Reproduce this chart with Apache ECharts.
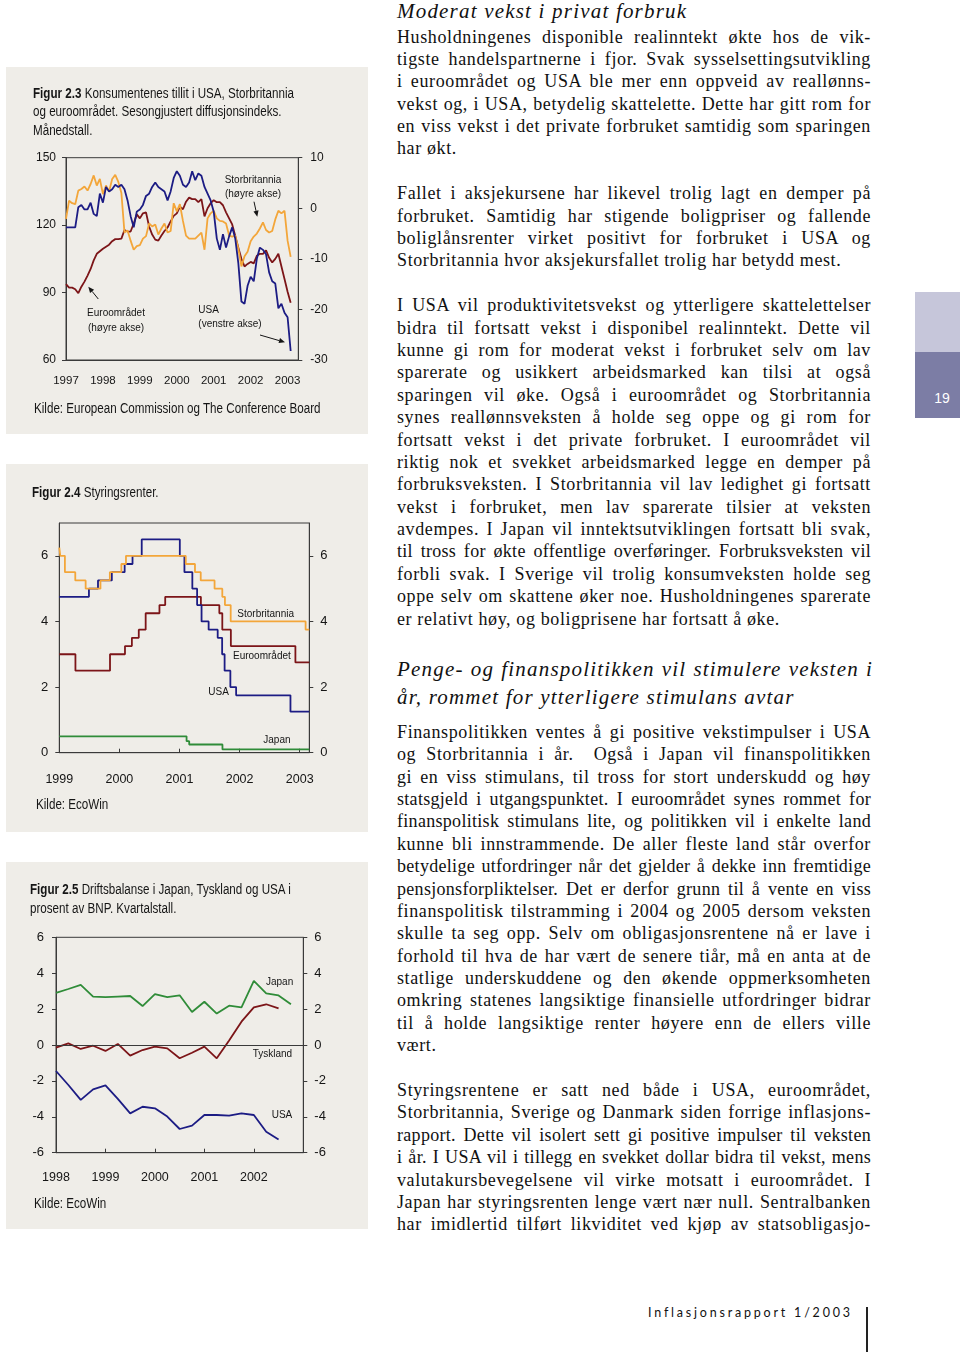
<!DOCTYPE html>
<html><head><meta charset="utf-8">
<script src="https://cdn.jsdelivr.net/npm/echarts@6/dist/echarts.min.js"></script>
<style>
html,body{margin:0;padding:0;background:#fff;}
body{width:960px;height:1352px;position:relative;overflow:hidden;}
.panel{position:absolute;left:6px;width:362px;background:#efede8;}
.ptxt{position:absolute;font-family:"Liberation Sans",Arial,sans-serif;font-size:14px;line-height:18.5px;color:#151515;white-space:nowrap;z-index:2;transform:scaleX(0.83);transform-origin:0 0;}
.ptxt b{font-weight:bold;}
.chart{position:absolute;left:0;top:0;width:362px;z-index:1;}
.col{position:absolute;left:397px;width:474px;font-family:"Liberation Serif","Times New Roman",serif;font-size:18px;line-height:22.4px;letter-spacing:0.62px;color:#111;}
.col div{white-space:nowrap;text-align:justify;text-align-last:justify;height:22.4px;}
.col div.l{text-align-last:left;}
.col div.t{letter-spacing:0.3px;}
.h{position:absolute;left:397px;width:476px;font-family:"Liberation Serif","Times New Roman",serif;font-style:italic;font-size:21px;line-height:28px;color:#111;letter-spacing:1.2px;}
.h div{white-space:nowrap;text-align:justify;text-align-last:justify;}
.h div.l{text-align-last:left;}
</style>
</head><body>

<div class="h" style="top:-3px;"><div class="l">Moderat vekst i privat forbruk</div></div>
<div class="col" style="top:25.5px;">
<div>Husholdningenes disponible realinntekt økte hos de vik-</div>
<div>tigste handelspartnerne i fjor. Svak sysselsettingsutvikling</div>
<div>i euroområdet og USA ble mer enn oppveid av reallønns-</div>
<div>vekst og, i USA, betydelig skattelette. Dette har gitt rom for</div>
<div>en viss vekst i det private forbruket samtidig som sparingen</div>
<div class="l">har økt.</div>
<div class="l"></div>
<div>Fallet i aksjekursene har likevel trolig lagt en demper på</div>
<div>forbruket. Samtidig har stigende boligpriser og fallende</div>
<div>boliglånsrenter virket positivt for forbruket i USA og</div>
<div class="l">Storbritannia hvor aksjekursfallet trolig har betydd mest.</div>
<div class="l"></div>
<div>I USA vil produktivitetsvekst og ytterligere skattelettelser</div>
<div>bidra til fortsatt vekst i disponibel realinntekt. Dette vil</div>
<div>kunne gi rom for moderat vekst i forbruket selv om lav</div>
<div>sparerate og usikkert arbeidsmarked kan tilsi at også</div>
<div>sparingen vil øke. Også i euroområdet og Storbritannia</div>
<div>synes reallønnsveksten å holde seg oppe og gi rom for</div>
<div>fortsatt vekst i det private forbruket. I euroområdet vil</div>
<div>riktig nok et svekket arbeidsmarked legge en demper på</div>
<div>forbruksveksten. I Storbritannia vil lav ledighet gi fortsatt</div>
<div>vekst i forbruket, men lav sparerate tilsier at veksten</div>
<div>avdempes. I Japan vil inntektsutviklingen fortsatt bli svak,</div>
<div class="t">til tross for økte offentlige overføringer. Forbruksveksten vil</div>
<div>forbli svak. I Sverige vil trolig konsumveksten holde seg</div>
<div>oppe selv om skattene øker noe. Husholdningenes sparerate</div>
<div class="l">er relativt høy, og boligprisene har fortsatt å øke.</div>
</div>

<div class="h" style="top:655px;">
<div>Penge- og finanspolitikken vil stimulere veksten i</div>
<div class="l">år, rommet for ytterligere stimulans avtar</div>
</div>
<div class="col" style="top:720.8px;">
<div>Finanspolitikken ventes å gi positive vekstimpulser i USA</div>
<div>og Storbritannia i år.&nbsp; Også i Japan vil finanspolitikken</div>
<div>gi en viss stimulans, til tross for stort underskudd og høy</div>
<div class="t">statsgjeld i utgangspunktet. I euroområdet synes rommet for</div>
<div class="t">finanspolitisk stimulans lite, og politikken vil i enkelte land</div>
<div>kunne bli innstrammende. De aller fleste land står overfor</div>
<div class="t">betydelige utfordringer når det gjelder å dekke inn fremtidige</div>
<div class="t">pensjonsforpliktelser. Det er derfor grunn til å vente en viss</div>
<div>finanspolitisk tilstramming i 2004 og 2005 dersom veksten</div>
<div>skulle ta seg opp. Selv om obligasjonsrentene nå er lave i</div>
<div>forhold til hva de har vært de senere tiår, må en anta at de</div>
<div>statlige underskuddene og den økende oppmerksomheten</div>
<div>omkring statenes langsiktige finansielle utfordringer bidrar</div>
<div>til å holde langsiktige renter høyere enn de ellers ville</div>
<div class="l">vært.</div>
<div class="l"></div>
<div>Styringsrentene er satt ned både i USA, euroområdet,</div>
<div>Storbritannia, Sverige og Danmark siden forrige inflasjons-</div>
<div class="t">rapport. Dette vil isolert sett gi positive impulser til veksten</div>
<div class="t">i år. I USA vil i tillegg en svekket dollar bidra til vekst, mens</div>
<div>valutakursbevegelsene vil virke motsatt i euroområdet. I</div>
<div>Japan har styringsrenten lenge vært nær null. Sentralbanken</div>
<div>har imidlertid tilført likviditet ved kjøp av statsobligasjo-</div>
</div>

<!-- side tab -->
<div style="position:absolute;left:915px;top:292px;width:45px;height:60px;background:#c6c6da;"></div>
<div style="position:absolute;left:915px;top:352px;width:45px;height:66px;background:#7c7da5;"></div>
<div style="position:absolute;left:915px;top:388px;width:54px;text-align:center;font-family:'Liberation Sans',Arial,sans-serif;font-size:14px;line-height:20px;color:#fff;">19</div>

<!-- footer -->
<div style="position:absolute;left:648px;top:1304px;font-family:Lato,'Open Sans',sans-serif;font-size:12.5px;line-height:18px;letter-spacing:2.8px;color:#111;white-space:nowrap;">Inflasjonsrapport 1/2003</div>
<div style="position:absolute;left:866px;top:1307px;width:1.5px;height:45px;background:#222;"></div>

<!-- panels -->
<div class="panel" style="top:67px;height:367px;">
  <div class="chart" id="c1" style="height:367px;"></div>
  <div class="ptxt" style="left:27px;top:16.75px;"><b>Figur 2.3</b> Konsumentenes tillit i USA, Storbritannia<br>og euroområdet. Sesongjustert diffusjonsindeks.<br>Månedstall.</div>
  <div class="ptxt" style="left:28px;top:331.75px;">Kilde: European Commission og The Conference Board</div>
</div>
<div class="panel" style="top:464px;height:368px;">
  <div class="chart" id="c2" style="height:368px;"></div>
  <div class="ptxt" style="left:26px;top:18.75px;"><b>Figur 2.4</b> Styringsrenter.</div>
  <div class="ptxt" style="left:30px;top:330.75px;">Kilde: EcoWin</div>
</div>
<div class="panel" style="top:862px;height:367px;">
  <div class="chart" id="c3" style="height:367px;"></div>
  <div class="ptxt" style="left:24px;top:18.25px;"><b>Figur 2.5</b> Driftsbalanse i Japan, Tyskland og USA i<br>prosent av BNP. Kvartalstall.</div>
  <div class="ptxt" style="left:28px;top:331.75px;">Kilde: EcoWin</div>
</div>

<script>
// ---------- Figur 2.3: monthly, from Jan 1997 ----------
const confStartYear = 1997;
const confYearTicks = [1997, 1998, 1999, 2000, 2001, 2002, 2003];
const usaConf = [119,119,119,119,128,129,127,127,130,125,124,134,
  130,137,135,136,138,137,138,136,131,124,119,126,
  127,129,133,134,137,139,137,136,135,131,135,141,
  144,142,138,137,139,144,140,143,142,137,134,131,
  126,114,109,116,110,115,119,114,103,86,85,93,
  97,95,105,110,109,107,99,95,94,83,85,81,
  79,64];
const euroConf = [-15,-15.7,-15.7,-16,-16.8,-15.5,-14.5,-13.3,-12,-10.3,-9,-8.5,
  -8,-7.6,-7.2,-6.5,-6.1,-6.1,-6,-4.3,-4.6,-4.6,-3,-1.2,
  -2,-1,-0.8,-3.6,-5.2,-6.2,-6.4,-5.4,-4.5,-3.8,-2.6,-1.5,
  -1,0.3,-0.2,1.3,2.1,1.8,1.8,1.2,1.8,-1.6,0,1,
  1.6,1.2,1.2,0.6,-0.8,-2,-3.2,-5.5,-7.8,-10,-11.5,-11,
  -10.6,-10.9,-9.4,-9,-9,-8.3,-9.8,-10.7,-10,-9,-11.5,-14,
  -16.5,-18.7];
const ukConf = [-2.1,1.5,1.0,0.8,3.5,3.8,4.3,3.5,4.8,6.5,4.5,5.8,
  2.8,4.5,3.3,5.8,6.6,5.2,3.0,-4.8,-4.4,-6.4,-8.2,-7.5,
  -7.3,-6.0,-5.5,-3.0,-3.6,-3.2,-5.2,-4.0,-3.0,-4.8,-4.5,1.0,
  -0.6,0.8,-2.5,-5.4,-6.0,-6.0,-6.0,-5.4,-4.8,-8.2,-2.0,-1.0,
  -0.5,-2.0,-2.5,-2.6,-3.0,-5.4,-5.6,-5.4,-8.0,-11.5,-9.5,-8.6,
  -6.5,-5.6,-5.0,-4.0,-2.8,-4.3,-4.8,-4.5,-2.2,-0.5,-1.0,-0.5,
  -6.4,-9.6];

// ---------- Figur 2.4: policy rates, [date of change, new level] ----------
const rateYearTicks = [1999, 2000, 2001, 2002, 2003];
const usaRate = [['1999-01-01',4.75],['1999-06-30',5.0],['1999-08-24',5.25],['1999-11-16',5.5],['2000-02-02',5.75],['2000-03-21',6.0],['2000-05-16',6.5],['2001-01-03',6.0],['2001-01-31',5.5],['2001-03-20',5.0],['2001-04-18',4.5],['2001-05-15',4.0],['2001-06-27',3.75],['2001-08-21',3.5],['2001-09-17',3.0],['2001-10-02',2.5],['2001-11-06',2.0],['2001-12-11',1.75],['2002-11-06',1.25],['2003-02-28',1.25]];
const ukRate = [['1999-01-01',6.25],['1999-01-07',6.0],['1999-02-04',5.5],['1999-04-08',5.25],['1999-06-10',5.0],['1999-09-08',5.25],['1999-11-04',5.5],['2000-01-13',5.75],['2000-02-10',6.0],['2001-02-08',5.75],['2001-04-05',5.5],['2001-05-10',5.25],['2001-08-02',5.0],['2001-09-18',4.75],['2001-10-04',4.5],['2001-11-08',4.0],['2003-02-06',3.75],['2003-02-28',3.75]];
const euroRate = [['1999-01-01',3.0],['1999-04-09',2.5],['1999-11-05',3.0],['2000-02-04',3.25],['2000-03-17',3.5],['2000-04-28',3.75],['2000-06-09',4.25],['2000-09-01',4.5],['2000-10-06',4.75],['2001-05-11',4.5],['2001-08-31',4.25],['2001-09-18',3.75],['2001-11-09',3.25],['2002-12-06',2.75],['2003-02-28',2.75]];
const japanRate = [['1999-01-01',0.5],['2001-02-13',0.35],['2001-03-01',0.25],['2001-09-19',0.1],['2003-02-28',0.1]];

// ---------- Figur 2.5: quarterly current account, from 1998 Q1 ----------
const caStartYear = 1998;
const caYearTicks = [1998, 1999, 2000, 2001, 2002];
const japanCA = [2.9,3.12,3.35,2.7,2.67,2.7,2.73,2.17,2.84,2.67,2.77,1.84,2.41,1.75,2.19,2.1,3.57,2.88,2.76,2.27];
const germanyCA = [-0.15,0.09,-0.22,-0.04,-0.33,0.06,-0.59,-0.28,-0.09,-0.19,-0.74,-0.43,-0.09,-0.74,0.25,1.3,2.1,2.27,2.04];
const usaCA = [-1.45,-2.23,-3.06,-2.47,-2.25,-3.0,-3.81,-3.44,-3.53,-3.99,-4.68,-4.49,-3.9,-3.9,-3.94,-3.81,-3.9,-4.83,-5.26];

// ---------- helpers ----------
const SANS = "'Liberation Sans',Arial,sans-serif";
const AX = '#3a3a3a';
const C_USA = '#1c1c84', C_EURO = '#7c1518', C_UK = '#f3a63a', C_JP = '#2f8c38';

function monthly(arr, start){ return arr.map((v,i)=>[start + i/12, v]); }
function quarterly(arr, start){ return arr.map((v,i)=>[start + i/4, v]); }
function decYear(s){
  const [y,m,d] = s.split('-').map(Number);
  const t0 = Date.UTC(y,0,1), t1 = Date.UTC(y+1,0,1);
  return y + (Date.UTC(y,m-1,d) - t0)/(t1 - t0);
}
function steps(arr){ return arr.map(([d,v])=>[decYear(d), v]); }

function xAxisCfg(min, max, ticks, margin, fs, showTick){
  return {type:'value', min:min, max:max, splitLine:{show:false},
    axisLine:{show:true, onZero:false, lineStyle:{color:AX, width:1}},
    axisTick:{show:showTick, inside:true, length:4, customValues:ticks, lineStyle:{color:AX}},
    axisLabel:{customValues:ticks, margin:margin, color:'#151515', fontSize:fs, fontFamily:SANS,
      formatter:(v)=>String(Math.round(v))}};
}
function yAxisCfg(pos, min, max, ticks, margin, fs){
  return {type:'value', position:pos, min:min, max:max, splitLine:{show:false},
    axisLine:{show:true, onZero:false, lineStyle:{color:AX, width:1}},
    axisTick:{show:true, length:4, customValues:ticks, lineStyle:{color:AX}},
    axisLabel:{customValues:ticks, margin:margin, color:'#151515', fontSize:fs, fontFamily:SANS}};
}
function lineSeries(name, data, color, yIdx, extra){
  return Object.assign({name:name, type:'line', data:data, yAxisIndex:yIdx||0, showSymbol:false, symbol:'none',
    lineStyle:{color:color, width:1.8}, itemStyle:{color:color}, z:3}, extra||{});
}
function txt(x, y, s, align){
  return {type:'text', x:x, y:y, z:10, style:{text:s, fill:'#151515', font:'10px '+SANS, textAlign:align||'left', textVerticalAlign:'middle'}};
}
function arrow(x1,y1,x2,y2){
  const a = Math.atan2(y2-y1, x2-x1), L = 6, W = 2.6;
  const bx = x2 - L*Math.cos(a), by = y2 - L*Math.sin(a);
  const px = -Math.sin(a)*W, py = Math.cos(a)*W;
  return [
    {type:'line', z:10, shape:{x1:x1,y1:y1,x2:bx,y2:by}, style:{stroke:'#151515', lineWidth:1}},
    {type:'polygon', z:10, shape:{points:[[x2,y2],[bx+px,by+py],[bx-px,by-py]]}, style:{fill:'#151515'}}
  ];
}

// ---------- chart 1 ----------
const c1 = echarts.init(document.getElementById('c1'), null, {renderer:'canvas'});
c1.setOption({
  animation:false,
  grid:{left:60, top:90.7, right:69.7, bottom:74, show:true, borderColor:AX, borderWidth:1, backgroundColor:'transparent', outerBoundsMode:'none'},
  xAxis: xAxisCfg(1997, 2003.29, confYearTicks, 15, 11.5, false),
  yAxis: [yAxisCfg('left', 60, 150, [60,90,120,150], 10, 12), yAxisCfg('right', -30, 10, [-30,-20,-10,0,10], 12, 12)],
  series:[
    lineSeries('Euroområdet', monthly(euroConf, confStartYear), C_EURO, 1),
    lineSeries('Storbritannia', monthly(ukConf, confStartYear), C_UK, 1),
    lineSeries('USA', monthly(usaConf, confStartYear), C_USA, 0)
  ],
  graphic:[
    txt(247,113,'Storbritannia','center'), txt(247,127,'(høyre akse)','center'),
    ...arrow(248,134.7,251.3,149.7),
    txt(110,246.3,'Euroområdet','center'), txt(110,261,'(høyre akse)','center'),
    ...arrow(92.3,232,82.3,219.7),
    txt(192.3,243,'USA','left'), txt(192.3,257,'(venstre akse)','left'),
    ...arrow(254,268,279,275.3)
  ]
});

// ---------- chart 2 ----------
const c2 = echarts.init(document.getElementById('c2'), null, {renderer:'canvas'});
c2.setOption({
  animation:false,
  grid:{left:53.3, top:59, right:58.7, bottom:79.3, show:true, borderColor:AX, borderWidth:1, backgroundColor:'transparent', outerBoundsMode:'none'},
  xAxis: xAxisCfg(1999, 2003.16, rateYearTicks, 20, 12.5, true),
  yAxis: [yAxisCfg('left', 0, 7, [0,2,4,6], 11, 13), yAxisCfg('right', 0, 7, [0,2,4,6], 11, 13)],
  series:[
    lineSeries('Japan', steps(japanRate), C_JP, 0, {step:'end'}),
    lineSeries('Euroområdet', steps(euroRate), C_EURO, 0, {step:'end'}),
    lineSeries('USA', steps(usaRate), C_USA, 0, {step:'end'}),
    lineSeries('Storbritannia', steps(ukRate), C_UK, 0, {step:'end'})
  ],
  graphic:[
    txt(231.3,150,'Storbritannia'), txt(227,192.7,'Euroområdet'),
    txt(202.3,228.3,'USA'), txt(257.3,276,'Japan')
  ]
});

// ---------- chart 3 ----------
const c3 = echarts.init(document.getElementById('c3'), null, {renderer:'canvas'});
c3.setOption({
  animation:false,
  grid:{left:50, top:75.3, right:64.7, bottom:76.3, show:true, borderColor:AX, borderWidth:1, backgroundColor:'transparent', outerBoundsMode:'none'},
  xAxis: xAxisCfg(1998, 2003, caYearTicks, 18, 12.5, true),
  yAxis: [yAxisCfg('left', -6, 6, [-6,-4,-2,0,2,4,6], 12, 13), yAxisCfg('right', -6, 6, [-6,-4,-2,0,2,4,6], 11, 13)],
  series:[
    lineSeries('Japan', quarterly(japanCA, caStartYear), C_JP, 0, {
      markLine:{silent:true, symbol:['none','none'], label:{show:false}, animation:false,
        lineStyle:{color:AX, type:'solid', width:1}, data:[{yAxis:0}]}}),
    lineSeries('Tyskland', quarterly(germanyCA, caStartYear), C_EURO, 0),
    lineSeries('USA', quarterly(usaCA, caStartYear), C_USA, 0)
  ],
  graphic:[
    txt(260,120.7,'Japan'), txt(246.7,192.3,'Tyskland'), txt(265.7,253,'USA')
  ]
});
</script>
</body></html>
